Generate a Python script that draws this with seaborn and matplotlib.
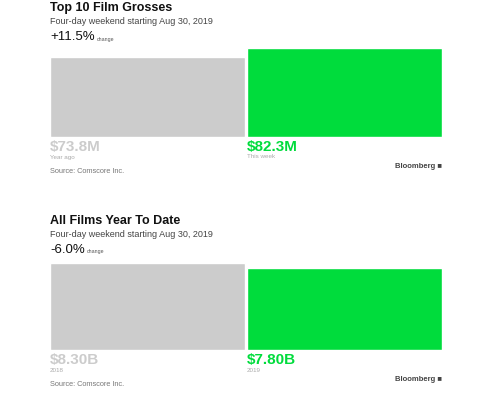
import numpy as np
import pandas as pd
import matplotlib.pyplot as plt
import seaborn as sns

# Data
top_labels = ["Year ago", "This week"]
top_values = [73.8, 82.3]
top_text = ["$73.8M", "$82.3M"]
ytd_labels = ["2018", "2019"]
ytd_values = [8.30, 7.80]
ytd_text = ["$8.30B", "$7.80B"]

sns.set_style("white")
plt.rcParams['font.family'] = ['Liberation Sans', 'DejaVu Sans']

gray = "#cccccc"
green = "#00dc3c"

fig = plt.figure(figsize=(5, 3.98), dpi=100)


def fy(py):
    return 1 - py / 398


def panel(bottom, height, labels, values, texts, title, change, y0):
    ax = fig.add_axes([0.1, bottom, 0.784, height])
    df = pd.DataFrame({"label": labels, "value": values})
    sns.barplot(data=df, x="label", y="value", hue="label", palette=[gray, green],
                width=0.99, saturation=1, legend=False, ax=ax)
    ax.set_xlim(-0.495, 1.495)
    ax.set_ylim(0, max(values))
    ax.axis("off")
    # headline
    fig.text(0.1, fy(y0), title, fontsize=9, fontweight="bold", va="center", color="#111111")
    fig.text(0.1, fy(y0 + 14), "Four-day weekend starting Aug 30, 2019", fontsize=6.5,
             va="center", color="#444444")
    t = fig.text(0.1, fy(y0 + 29), change, fontsize=9.5, va="center", color="#111111")
    # place the small "change" right after the percentage
    r = fig.canvas.get_renderer()
    x1 = t.get_window_extent(renderer=r).x1 / fig.bbox.width
    fig.text(x1 + 0.004, fy(y0 + 31), "change", fontsize=3.8,
             va="center", color="#555555")
    # values & labels under bars
    base_px = (1 - bottom) * 398
    xs = [0.1, 0.494]
    cols = [gray, green]
    for x, txt, lab, c in zip(xs, texts, labels, cols):
        fig.text(x, fy(base_px + 10), txt, fontsize=11, fontweight="bold", color=c, va="center")
        fig.text(x, fy(base_px + 20), lab, fontsize=4.5, color="#aaaaaa", va="center")
    fig.text(0.1, fy(base_px + 34.5), "Source: Comscore Inc.", fontsize=5.3, color="#777777", va="center")
    fig.text(0.884, fy(base_px + 29.5), "Bloomberg \u25a0", fontsize=5.5, fontweight="bold",
             color="#444444", va="center", ha="right")
    return ax


panel(1 - 137 / 398, 89 / 398, top_labels, top_values, top_text,
      "Top 10 Film Grosses", "+11.5%", 8)
panel(1 - 350 / 398, 87 / 398, ytd_labels, ytd_values, ytd_text,
      "All Films Year To Date", "-6.0%", 221)

plt.savefig("out.png", dpi=100)
